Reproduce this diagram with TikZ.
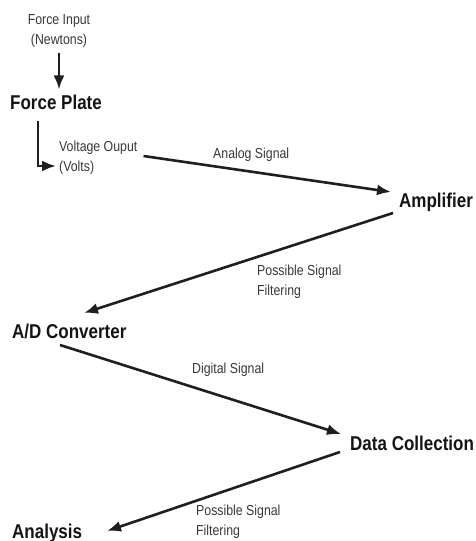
\documentclass[tikz,border=0pt]{standalone}
\usepackage{fontspec}
\setmainfont{Liberation Sans}[FakeStretch=0.85]
\usetikzlibrary{arrows.meta}
\tikzset{
  big/.style={font=\fontsize{20}{22}\selectfont\bfseries, inner sep=0pt, text=black!92},
  small/.style={font=\fontsize{14.5}{20}\selectfont, inner sep=0pt, text=black!78},
  arr/.style={line width=2.6pt, draw=black!88, -{Latex[length=14pt,width=11pt]}}
}
\begin{document}
\begin{tikzpicture}[x=1pt,y=-1pt]
\useasboundingbox (0,0) rectangle (475,541);
\node[small, align=center] (fi) at (59,31) {Force Input\\(Newtons)};
\node[big, anchor=west] (fp) at (10,102) {Force Plate};
\node[small, anchor=west, align=left] (vo) at (59,158) {Voltage Ouput\\(Volts)};
\node[big, anchor=west] (amp) at (399,202) {Amplifier};
\node[big, anchor=west] (ad) at (12,331) {A/D Converter};
\node[big, anchor=west] (dc) at (350,443) {Data Collection};
\node[big, anchor=west] (an) at (12,533) {Analysis};
\node[small, anchor=west] (l1) at (213,155) {Analog Signal};
\node[small, anchor=west, align=left] (l2) at (257,282) {Possible Signal\\Filtering};
\node[small, anchor=west] (l3) at (192,370) {Digital Signal};
\node[small, anchor=west, align=left] (l4) at (196,522) {Possible Signal\\Filtering};
\draw[arr] ([yshift=-5pt]fi.south) -- ([yshift=5pt]fp.north -| fi.south);
\draw[arr] ([xshift=28pt,yshift=-11pt]fp.south west) |- ([xshift=-3pt,yshift=-8pt]vo.west);
\draw[arr] ([xshift=6pt,yshift=2pt]vo.east) -- ([xshift=-8pt,yshift=10pt]amp.west);
\draw[arr] ([xshift=-6pt,yshift=-11pt]amp.west) -- ([xshift=72pt,yshift=18pt]ad.west);
\draw[arr] ([xshift=48pt,yshift=-14pt]ad.west) -- ([xshift=-9pt,yshift=9pt]dc.west);
\draw[arr] ([xshift=-10pt,yshift=-9pt]dc.west) -- ([xshift=95pt,yshift=2pt]an.west);
\end{tikzpicture}
\end{document}
